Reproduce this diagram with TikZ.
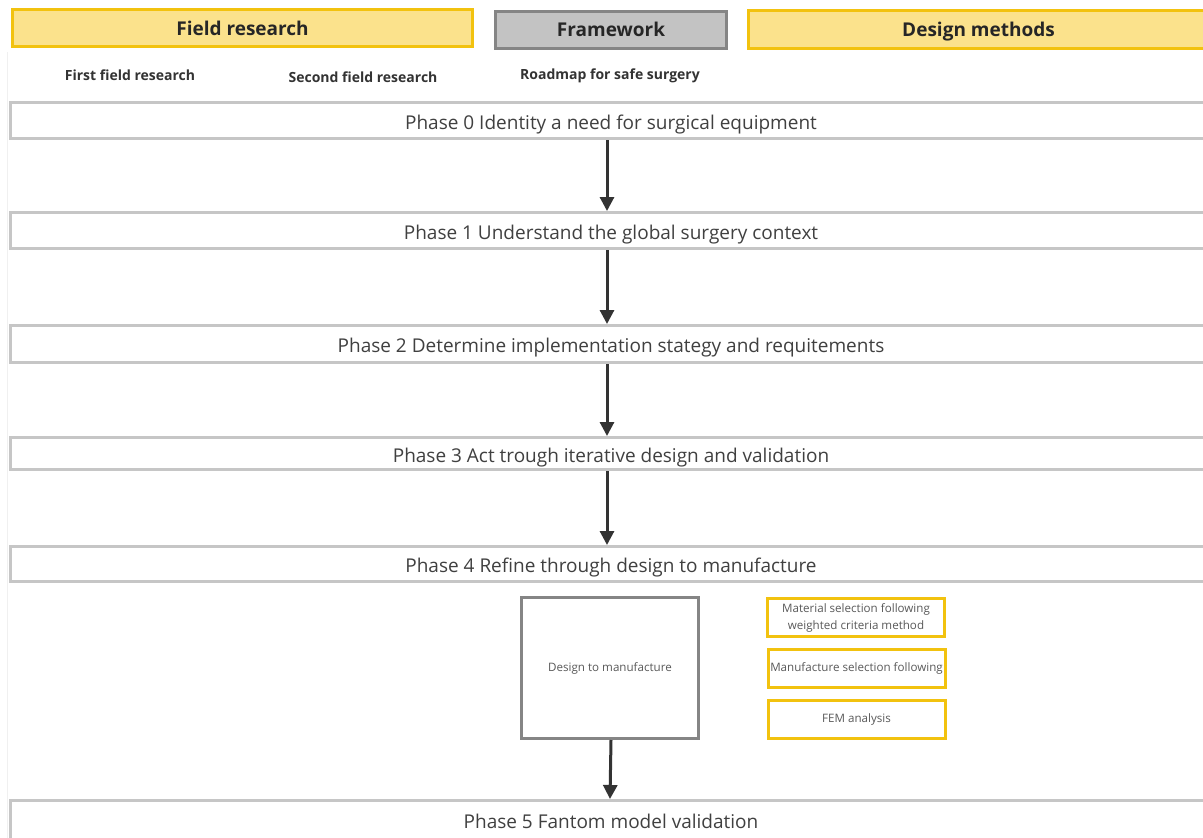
\documentclass[tikz,border=0pt]{standalone}
\usepackage{fontspec}
\setmainfont{Open Sans}
\usetikzlibrary{arrows.meta}
\definecolor{phaseline}{HTML}{C6C6C6}
\definecolor{phasetext}{HTML}{404040}
\definecolor{goldline}{HTML}{F2C20F}
\definecolor{goldfill}{HTML}{FBE28C}
\definecolor{greyline}{HTML}{858585}
\definecolor{greyfill}{HTML}{C3C3C3}
\definecolor{arrowdark}{HTML}{333333}
\tikzset{
  phasebox/.style={draw=phaseline, line width=3pt, fill=white, minimum width=1201.5pt,
    inner sep=0pt, text height=17pt, text depth=0pt, text=phasetext,
    font=\fontsize{19}{21}\selectfont},
  headyellow/.style={draw=goldline, fill=goldfill, line width=3pt, inner sep=0pt,
    font=\bfseries\fontsize{19}{21}\selectfont, text=black!85},
  headgrey/.style={draw=greyline, fill=greyfill, line width=3pt, inner sep=0pt,
    font=\bfseries\fontsize{19}{21}\selectfont, text=black!85},
  sublabel/.style={font=\bfseries\fontsize{14}{16}\selectfont, text=black!80},
  methodbox/.style={draw=goldline, line width=3pt, fill=white, minimum width=177pt,
    minimum height=38pt, inner sep=0pt, align=center, text=black!65,
    font=\fontsize{11.6}{17}\selectfont},
  flowarrow/.style={draw=arrowdark, line width=3pt, -{Triangle[width=14pt,length=14pt]}}
}
\begin{document}
\begin{tikzpicture}[x=1pt,y=-1pt]
\useasboundingbox (0,0) rectangle (1203,838);
\fill[white] (0,0) rectangle (1203,838);
\clip (0,0) rectangle (1203,838);
\draw[black!6, line width=1pt] (7,52) -- (7,838);

% column headers
\node[headyellow, minimum width=460pt, minimum height=37pt] (field) at (242.5,28) {Field research};
\node[headgrey, minimum width=231pt, minimum height=37pt] (frame) at (611,29.5) {Framework};
\node[headyellow, minimum width=460pt, minimum height=38pt, text depth=0pt] (design) at (978.5,29.5) {Design methods};

\node[sublabel] (first) at (130,75) {First field research};
\node[sublabel] (second) at (363,77) {Second field research};
\node[sublabel] (roadmap) at (610,76) {Roadmap for safe surgery};

% phases
\node[phasebox, minimum height=36pt] (p0) at (611,120.5) {Phase 0 Identity a need for surgical equipment};
\node[phasebox, minimum height=36pt] (p1) at (611,230.5) {Phase 1 Understand the global surgery context};
\node[phasebox, minimum height=37pt] (p2) at (611,344) {Phase 2 Determine implementation stategy and requitements};
\node[phasebox, minimum height=32pt] (p3) at (611,453.5) {Phase 3 Act trough iterative design and validation};
\node[phasebox, minimum height=35pt] (p4) at (611,564) {Phase 4 Refine through design to manufacture};
\node[phasebox, minimum height=39pt] (p5) at (611,820) {Phase 5 Fantom model validation};

% design to manufacture block
\node[draw=greyline, line width=3pt, fill=white, minimum width=177pt, minimum height=141pt,
  inner sep=0pt, text=black!65, font=\fontsize{11.6}{14}\selectfont] (dtm) at (610,668) {Design to manufacture};
\node[methodbox] (mat) at (856,617.5) {Material selection following\\weighted criteria method};
\node[methodbox] (man) at (856.5,668.5) {Manufacture selection following};
\node[methodbox] (fem) at (856.5,719.5) {FEM analysis};

% flow arrows
\draw[flowarrow] ([xshift=-4pt]p0.south) -- ([xshift=-4pt]p1.north);
\draw[flowarrow] ([xshift=-4pt]p1.south) -- ([xshift=-4pt]p2.north);
\draw[flowarrow] ([xshift=-4pt]p2.south) -- ([xshift=-4pt]p3.north);
\draw[flowarrow] ([xshift=-4pt]p3.south) -- ([xshift=-4pt]p4.north);
\draw[flowarrow] ([xshift=1pt]dtm.south) -- (dtm.south |- p5.north);
\end{tikzpicture}
\end{document}
